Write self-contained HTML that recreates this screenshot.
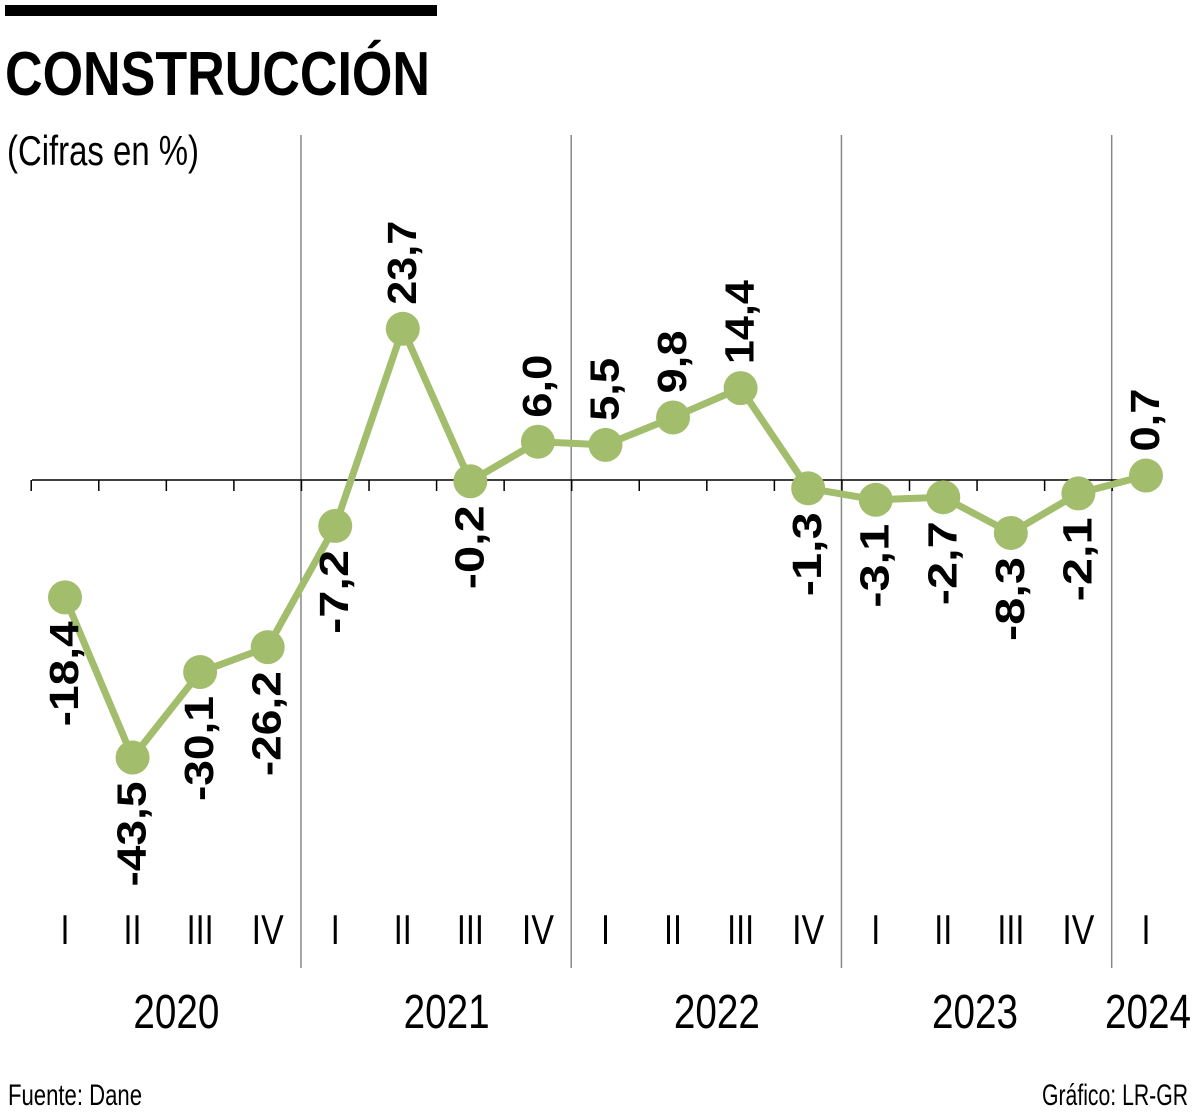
<!DOCTYPE html>
<html><head><meta charset="utf-8"><style>
html,body{margin:0;padding:0;background:#fff;}
svg{display:block;font-family:"Liberation Sans Narrow","Liberation Sans",sans-serif;}
</style></head><body>
<svg width="1200" height="1115" viewBox="0 0 1200 1115">
<rect x="5" y="5" width="432" height="11" fill="#000"/>
<text x="5" y="95" font-size="62" font-weight="bold" textLength="425" lengthAdjust="spacingAndGlyphs" font-family="Liberation Sans">CONSTRUCCIÓN</text>
<text x="7" y="165" font-size="42" textLength="192" lengthAdjust="spacingAndGlyphs">(Cifras en %)</text>
<g id="grid"></g>
<g id="axis"></g>
<g id="series"></g>
<g id="labels"></g>
<text x="8" y="1105" font-size="30" textLength="134" lengthAdjust="spacingAndGlyphs">Fuente: Dane</text>
<text x="1188" y="1105" font-size="30" text-anchor="end" textLength="146" lengthAdjust="spacingAndGlyphs">Gráfico: LR-GR</text>
</svg>
<script>
const quarters = ["I","II","III","IV","I","II","III","IV","I","II","III","IV","I","II","III","IV","I"];
const values = [-18.4,-43.5,-30.1,-26.2,-7.2,23.7,-0.2,6.0,5.5,9.8,14.4,-1.3,-3.1,-2.7,-8.3,-2.1,0.7];
const valueLabels = ["-18,4","-43,5","-30,1","-26,2","-7,2","23,7","-0,2","6,0","5,5","9,8","14,4","-1,3","-3,1","-2,7","-8,3","-2,1","0,7"];
const years = ["2020","2021","2022","2023","2024"];
const yearQuarterCounts = [4,4,4,4,1];

const NS="http://www.w3.org/2000/svg";
const x0=65, step=67.56, zeroY=480, k=6.38;
const xs=i=>x0+i*step;
const ys=v=>zeroY-v*k;
function mk(tag,attrs,parent){const e=document.createElementNS(NS,tag);for(const a in attrs)e.setAttribute(a,attrs[a]);document.getElementById(parent).appendChild(e);return e;}

let idx=0;
years.forEach((y,j)=>{
  const n=yearQuarterCounts[j];
  const start=idx, end=idx+n-1;
  if(j>0){
    const sx=xs(start)-step/2-0.5;
    const l=mk("line",{x1:sx,y1:135,x2:sx,y2:968,stroke:"#888","stroke-width":1.5},"grid");
    
    
  }
  let cx=(xs(start)+xs(end))/2+10;
  if(j===years.length-2) cx-=12;
  if(j===years.length-1) cx=1148;
  const t=mk("text",{x:cx,y:1028,"font-size":48,"text-anchor":"middle",textLength:86,lengthAdjust:"spacingAndGlyphs"},"grid");
  t.textContent=y;
  
  
  idx+=n;
});

const ax=mk("line",{x1:32,y1:zeroY,x2:xs(values.length-1)+10,y2:zeroY,stroke:"#000","stroke-width":1.5},"axis");


for(let i=0;i<values.length;i++){
  const tx=xs(i)-step/2;
  const tk=mk("line",{x1:tx,y1:zeroY,x2:tx,y2:zeroY+11,stroke:"#000","stroke-width":1.5},"axis");
  
  
  const q=mk("text",{x:xs(i),y:944,"font-size":42,"text-anchor":"middle",textLength:quarters[i].length*9+ (quarters[i]==="IV"?14:0),lengthAdjust:"spacingAndGlyphs"},"axis");
  q.textContent=quarters[i];
  
  
}

const pts=values.map((v,i)=>xs(i)+","+ys(v)).join(" ");
const pl=mk("polyline",{points:pts,fill:"none",stroke:"#a2bd6c","stroke-width":7,"stroke-linejoin":"round"},"series");


values.forEach((v,i)=>{
  const c=mk("circle",{cx:xs(i),cy:ys(v),r:17,fill:"#a2bd6c"},"series");
  
  
  const px=xs(i)+13, py=ys(v);
  const pos=v>0;
  const ly=pos?py-24:py+24;
  const t=mk("text",{x:0,y:0,"font-size":41,"font-weight":"bold","text-anchor":pos?"start":"end",transform:`translate(${px},${ly}) rotate(-90)`,textLength:valueLabels[i].length*21,lengthAdjust:"spacingAndGlyphs"},"labels");
  t.textContent=valueLabels[i];
  
  
});
</script>
</body></html>
